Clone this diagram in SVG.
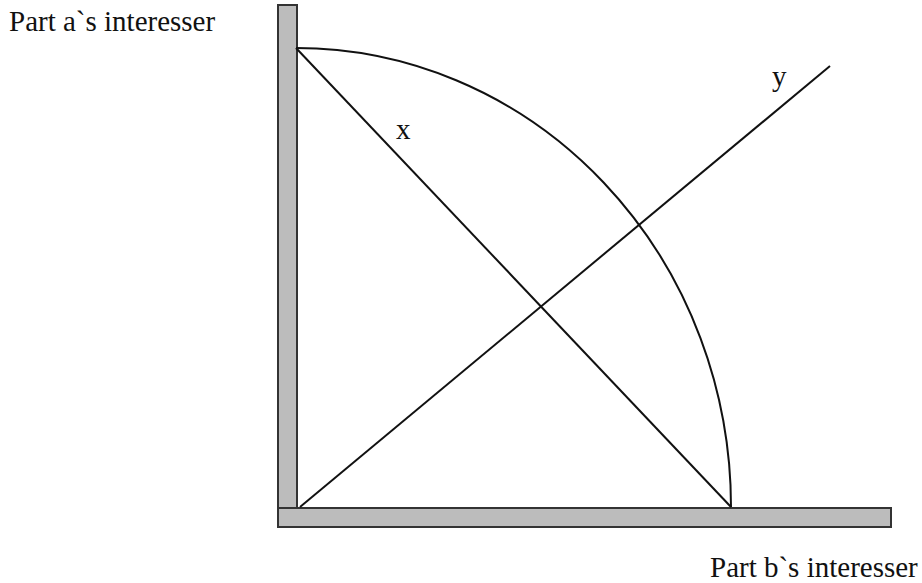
<svg xmlns="http://www.w3.org/2000/svg" width="922" height="583" viewBox="0 0 922 583">
<style>
.bar{fill:#bcbcbc;stroke:#333;stroke-width:2}
.ln{fill:none;stroke:#111;stroke-width:2}
text{font-family:"Liberation Serif",serif;fill:#111}
</style>
<rect width="922" height="583" fill="#fff"/>
<g id="axis-a"><rect class="bar" x="278" y="5" width="19" height="522"/></g>
<g id="axis-b"><rect class="bar" x="278" y="508" width="613" height="19"/></g>
<g id="connectors">
<line class="ln" x1="296" y1="48" x2="731" y2="507"/>
<line class="ln" x1="300" y1="507" x2="830" y2="66"/>
<path class="ln" d="M296,48 A435,459 0 0 1 731,507"/>
</g>
<g id="label-a"><text x="9" y="31" font-size="29">Part a`s interesser</text></g>
<g id="label-b"><text x="710" y="577" font-size="29">Part b`s interesser</text></g>
<g id="label-x"><text x="396" y="139" font-size="29">x</text></g>
<g id="label-y"><text x="772" y="86" font-size="29">y</text></g>
</svg>
